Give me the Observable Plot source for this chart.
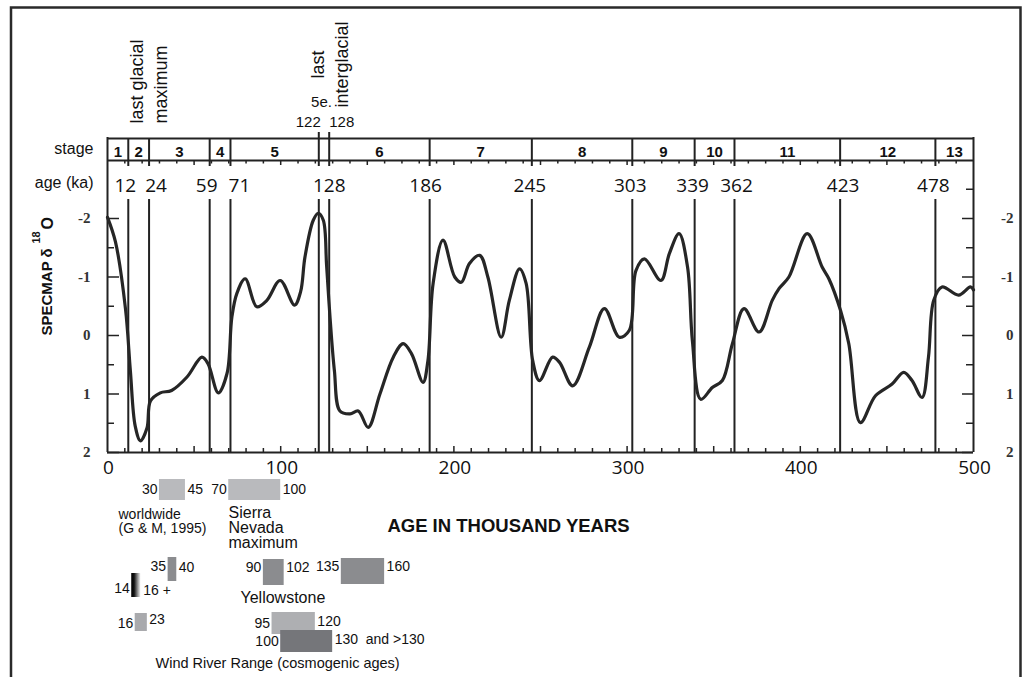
<!DOCTYPE html>
<html><head><meta charset="utf-8">
<script src="https://cdn.jsdelivr.net/npm/d3@7"></script>
<script src="https://cdn.jsdelivr.net/npm/@observablehq/plot@0.6"></script>
<style>
html,body{margin:0;padding:0;background:#fff;}
#chart{position:relative;width:1028px;height:677px;overflow:hidden;background:#fff;}
#chart svg text{white-space:pre;}
</style></head>
<body><div id="chart"></div>
<script>
// ---- data ----
const ageKa = [0,4.6,10.4,13.2,16,19,22.8,24.8,30.5,37,45.9,54.5,58,64,69,71.8,74.7,79.5,86.2,92,99.7,108,111.5,114,118.8,121.7,124.6,126.5,128.5,131,134.2,140,144.8,150.5,157.3,165,170.7,175.5,182.2,185,188,193.7,200.5,204.3,209,214.9,219.6,227.3,232,237.9,241.7,245.5,249.4,257,261,268.6,278.2,286.9,295.5,301.3,305.1,310,319.5,324.4,330,334.9,337.7,342.5,349.2,355,360.8,367.5,376.2,383.8,387.7,393.4,404,412.6,416.5,423.2,428,434.7,443.4,453,459.7,464.5,470.3,474,477,481.8,491.4,498.2,500];
const specmap = [-2.02,-1.6,-0.45,0.6,1.55,1.8,1.58,1.12,0.98,0.94,0.71,0.37,0.48,0.98,0.65,-0.31,-0.72,-0.97,-0.49,-0.6,-0.94,-0.52,-0.75,-1.34,-1.97,-2.09,-1.97,-1.2,-0.3,0.6,1.29,1.34,1.29,1.57,1.0,0.37,0.14,0.31,0.8,0.43,-0.89,-1.63,-1.0,-0.91,-1.23,-1.37,-1.0,0.03,-0.6,-1.14,-0.89,0.43,0.77,0.37,0.46,0.86,0.2,-0.46,0.03,-0.09,-1.11,-1.31,-0.94,-1.4,-1.74,-1.17,0.09,1.09,0.89,0.77,0.14,-0.46,-0.06,-0.6,-0.8,-1.0,-1.74,-1.17,-0.97,-0.43,0.14,1.49,1.03,0.83,0.63,0.77,1.06,0.37,-0.6,-0.83,-0.69,-0.83,-0.78];
const stageBoundaries = [12,24,59,71,122,128,186,245,303,339,362,423,478];
const ageLabels = [12,24,59,71,128,186,245,303,339,362,423,478];
const stageNames = ["1","2","3","4","5","6","7","8","9","10","11","12","13"];
const stageStart = [0,12,24,59,71,128,186,245,303,339,362,423,478];
const stageEnd = [12,24,59,71,122,186,245,303,339,362,423,478,500];
const xTicks = [0,100,200,300,400,500];
const yTicks = [-2,-1,0,1,2];
// dated ranges below the axis (ka)
const rangeFrom = [30,70,35,90,135,14,16,95,100];
const rangeTo = [45,100,40,102,160,16,23,120,130];
const rangeFromText = ["30","70","35","90","135","14","16","95","100"];
const rangeToText = ["45","100","40","102","160","16 +","23","120","130\u00a0 and >130"];
const noteLines = ["worldwide","(G & M, 1995)","Sierra","Nevada","maximum","Yellowstone","Wind River Range (cosmogenic ages)"];

// ---- layout (pixels) ----
const PXK = 1.732;
const py = p => (p - 335) / 58.5;      // pixel row -> δ18O units
const kx = p => (p - 107) / PXK;       // pixel column -> ka
const ink = "#222";
const sans = "Liberation Sans, Arial, sans-serif";
const open = "Open Sans, sans-serif";
const ageLabelDx = [-3,7,-3,9,0,-4,-2,-2,-2,2,3,-2];
const rangeLayout = [
  {top:479,bottom:500,fill:"#b9babd",ly:489,ry:489},
  {top:479,bottom:500,fill:"#b9babd",ly:489,ry:489},
  {top:557,bottom:581,fill:"#8b8c8f",ly:566,ry:567},
  {top:559,bottom:585,fill:"#8b8c8f",ly:567,ry:567},
  {top:558,bottom:584,fill:"#8b8c8f",ly:566,ry:566},
  {top:573,bottom:597,fill:"url(#fade)",ly:588,ry:590,ext:6},
  {top:613,bottom:631,fill:"#a9aaad",ly:623,ry:619},
  {top:612,bottom:634,fill:"#aeafb2",ly:623,ry:621},
  {top:630,bottom:652,fill:"#75767a",ly:641,ry:639}
];
const noteLayout = [
  {x:118,y:514,s:14},{x:118,y:528,s:14},
  {x:228,y:512,s:16},{x:228,y:527,s:16},{x:228,y:542,s:16},
  {x:240,y:597,s:16},{x:155,y:663,s:14.5}
];

const curve = ageKa.map((a,i)=>({a, v: specmap[i]}));
const minor = d3.range(10,500,10);
const halfTicks = d3.range(-2,2.01,0.5);

const marks = [
  Plot.ruleX(stageBoundaries, {x: d=>d, y1: d => (d===122||d===128) ? py(132) : py(138), y2: 2, stroke: ink, strokeWidth: 2}),
  Plot.ruleX([0,500], {x: d=>d, y1: py(137), y2: 2, stroke: ink, strokeWidth: 2}),
  Plot.ruleY([py(138), py(160), 2], {y: d=>d, x1: 0, x2: 500, stroke: ink, strokeWidth: 2}),
  Plot.ruleX(minor, {x: d=>d, y1: py(160), y2: d => py(d%50===0?165:163.5), stroke: ink, strokeWidth: 1.5}),
  Plot.ruleX(minor, {x: d=>d, y1: 2, y2: d => py(d%50===0?446:448), stroke: ink, strokeWidth: 1.5}),
  Plot.rect([0], {x1: kx(111), x2: kx(962), y1: py(166), y2: py(199), fill: "white"}),
  Plot.ruleY(halfTicks, {y: d=>d, x1: 0, x2: d => Number.isInteger(d) ? kx(119) : kx(114), stroke: ink, strokeWidth: 1.5}),
  Plot.ruleY(halfTicks.concat([-2.5]), {y: d=>d, x1: 500, x2: d => Number.isInteger(d) ? kx(962) : kx(966), stroke: ink, strokeWidth: 1.5}),
  Plot.line(curve, {x: "a", y: "v", curve: "catmull-rom", stroke: "#262626", strokeWidth: 3.2, strokeLinejoin: "round"}),
  Plot.text(yTicks, {x: 0, y: d=>d, dx: -17, text: d=>String(d), textAnchor: "end", fontFamily: "Liberation Serif, serif", fontWeight: "bold", fontSize: 15, fill: "#333"}),
  Plot.text(yTicks, {x: 500, y: d=>d, dx: 40, text: d=>String(d), textAnchor: "end", fontFamily: "Liberation Serif, serif", fontWeight: "bold", fontSize: 15, fill: "#333"}),
  Plot.text(xTicks, {x: d=>d, y: py(467), dx: 1, text: d=>String(d), fontFamily: open, fontSize: 19, fill: "#111"}),
  Plot.text(stageNames, {x: (d,i) => (stageStart[i]+stageEnd[i])/2, y: py(152), text: d=>d, fontFamily: sans, fontWeight: "bold", fontSize: 15, fill: "#111"}),
  Plot.text(ageLabels, {x: (d,i) => d + ageLabelDx[i]/PXK, y: py(185), text: d=>String(d), fontFamily: open, fontSize: 19, fill: "#111"}),
  Plot.text(["stage"], {x: 0, y: py(148), dx: -14, text: d=>d, textAnchor: "end", fontFamily: sans, fontSize: 16, fill: "#111"}),
  Plot.text(["age (ka)"], {x: 0, y: py(182), dx: -14, text: d=>d, textAnchor: "end", fontFamily: sans, fontSize: 16, fill: "#111"}),
  Plot.text(["last glacial"], {x: kx(137), y: py(123), text: d=>d, rotate: -90, textAnchor: "start", fontFamily: sans, fontSize: 18, fill: "#111"}),
  Plot.text(["maximum"], {x: kx(161), y: py(123), text: d=>d, rotate: -90, textAnchor: "start", fontFamily: sans, fontSize: 18, fill: "#111"}),
  Plot.text(["last"], {x: kx(318), y: py(64), text: d=>d, rotate: -90, fontFamily: sans, fontSize: 18, fill: "#111"}),
  Plot.text(["interglacial"], {x: kx(342), y: py(64), text: d=>d, rotate: -90, fontFamily: sans, fontSize: 18, fill: "#111"}),
  Plot.text(["5e."], {x: kx(321), y: py(102), text: d=>d, fontFamily: sans, fontSize: 15, fill: "#111"}),
  Plot.text(["122"], {x: 122, y: py(122), dx: 2, text: d=>d, textAnchor: "end", fontFamily: sans, fontSize: 15, fill: "#111"}),
  Plot.text(["128"], {x: 128, y: py(122), dx: 0, text: d=>d, textAnchor: "start", fontFamily: sans, fontSize: 15, fill: "#111"}),
  Plot.text(["SPECMAP \u03B4"], {x: kx(47), y: py(335), text: d=>d, rotate: -90, textAnchor: "start", fontFamily: sans, fontWeight: "bold", fontSize: 15, fill: "#111"}),
  Plot.text(["18"], {x: kx(36), y: py(243), text: d=>d, rotate: -90, textAnchor: "start", fontFamily: sans, fontWeight: "bold", fontSize: 11, fill: "#111"}),
  Plot.text(["O"], {x: kx(47), y: py(229), text: d=>d, rotate: -90, textAnchor: "start", fontFamily: sans, fontWeight: "bold", fontSize: 16, fill: "#111"}),
  Plot.text(["AGE IN THOUSAND YEARS"], {x: kx(508), y: py(526), text: d=>d, fontFamily: sans, fontWeight: "bold", fontSize: 18.5, fill: "#111"}),
  Plot.text(noteLines, {x: (d,i)=>kx(noteLayout[i].x), y: (d,i)=>py(noteLayout[i].y), text: d=>d, textAnchor: "start", fontFamily: sans, fontSize: (d,i)=>noteLayout[i].s, fill: "#111"})
];

rangeFrom.forEach((f,i) => {
  const L = rangeLayout[i];
  marks.push(Plot.rect([i], {x1: j=>rangeFrom[j], x2: j=>rangeTo[j], y1: py(L.top), y2: py(L.bottom), fill: L.fill, insetRight: L.ext ? -L.ext : 0}));
  marks.push(Plot.text([i], {x: j=>rangeFrom[j], y: py(L.ly), dx: -2, text: j=>rangeFromText[j], textAnchor: "end", fontFamily: sans, fontSize: 14, fill: "#111"}));
  marks.push(Plot.text([i], {x: j=>rangeTo[j], y: py(L.ry), dx: 2 + (L.ext||0), text: j=>rangeToText[j], textAnchor: "start", fontFamily: sans, fontSize: 14, fill: "#111"}));
});

const svg = Plot.plot({
  width: 1028, height: 677, margin: 0,
  x: {domain: [0,500], range: [107,973], axis: null},
  y: {domain: [py(0), py(677)], range: [0,677], axis: null},
  style: {background: "white", fontFamily: sans, overflow: "visible"},
  marks
});

const s = d3.select(svg);
const g = s.insert("defs", ":first-child").append("linearGradient").attr("id","fade").attr("x1","0").attr("x2","1").attr("y1","0").attr("y2","0");
g.append("stop").attr("offset","0%").attr("stop-color","#000");
g.append("stop").attr("offset","30%").attr("stop-color","#111");
g.append("stop").attr("offset","100%").attr("stop-color","#fff");
s.append("path").attr("d","M11,677 V7.5 H1020.5 V677").attr("fill","none").attr("stroke","#2a2a2a").attr("stroke-width",2.5);

document.getElementById("chart").appendChild(svg);
</script>
</body></html>
